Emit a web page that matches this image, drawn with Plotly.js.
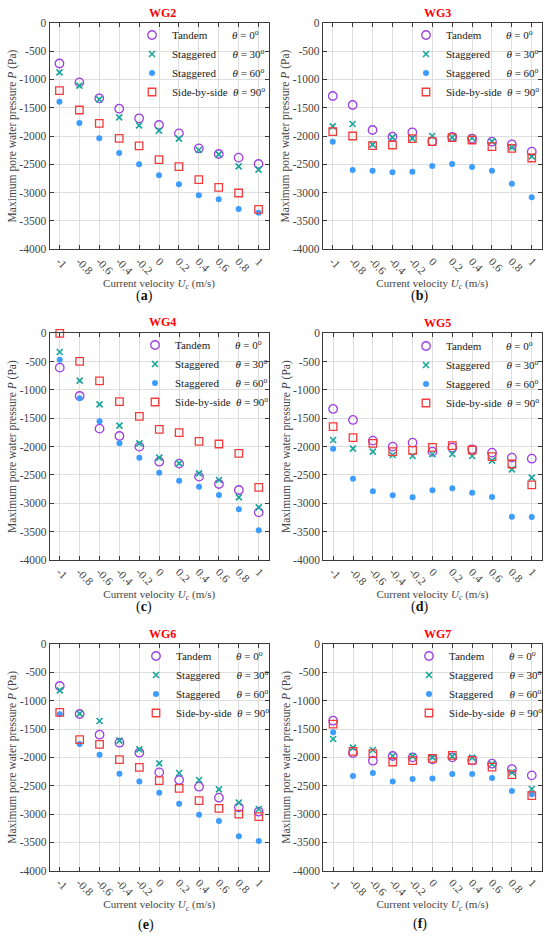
<!DOCTYPE html>
<html>
<head>
<meta charset="utf-8">
<script src="https://cdn.plot.ly/plotly-3.0.1.min.js"></script>
<style>html,body{margin:0;padding:0;background:#fff}#chart{width:550px;height:938px}</style>
</head>
<body>
<div id="chart"></div>
<script>
// ---- data ----
const currentVelocity = [-1, -0.8, -0.6, -0.4, -0.2, 0, 0.2, 0.4, 0.6, 0.8, 1];
const xTickText = ['-1', '-0.8', '-0.6', '-0.4', '-0.2', '0', '0.2', '0.4', '0.6', '0.8', '1'];
const yTickVals = [0, -500, -1000, -1500, -2000, -2500, -3000, -3500, -4000];
const yTickText = ['0', '-500', '-1000', '-1500', '-2000', '-2500', '-3000', '-3500', '-4000'];

const gaugeNames = ['WG2', 'WG3', 'WG4', 'WG5', 'WG6', 'WG7'];
const panelLabels = ['a', 'b', 'c', 'd', 'e', 'f'];
const seriesNames = ['Tandem', 'Staggered', 'Staggered', 'Side-by-side'];
const seriesAngles = ['0', '30', '60', '90'];

const wg2Tandem = [-720, -1053, -1335, -1518, -1688, -1806, -1953, -2218, -2318, -2382, -2494];
const wg2Stag30 = [-876, -1112, -1353, -1671, -1812, -1906, -2047, -2247, -2324, -2535, -2594];
const wg2Stag60 = [-1394, -1771, -2041, -2300, -2500, -2694, -2853, -3047, -3118, -3288, -3353];
const wg2Side   = [-1200, -1541, -1776, -2041, -2176, -2418, -2541, -2771, -2906, -3006, -3294];

const wg3Tandem = [-1294, -1453, -1894, -2012, -1935, -2094, -2018, -2047, -2100, -2147, -2276];
const wg3Stag30 = [-1829, -1788, -2153, -2024, -2041, -2000, -2024, -2035, -2094, -2200, -2359];
const wg3Stag60 = [-2100, -2600, -2612, -2641, -2629, -2529, -2494, -2547, -2612, -2841, -3082];
const wg3Side   = [-1924, -2000, -2171, -2159, -2047, -2100, -2029, -2071, -2188, -2218, -2388];

const wg4Tandem = [-606, -1106, -1682, -1812, -2000, -2265, -2300, -2529, -2659, -2765, -3159];
const wg4Stag30 = [-329, -835, -1253, -1629, -1941, -2194, -2294, -2471, -2588, -2894, -3071];
const wg4Stag60 = [-465, -1147, -1553, -1941, -2194, -2459, -2600, -2706, -2853, -3106, -3476];
const wg4Side   = [0, -494, -841, -1206, -1465, -1694, -1753, -1906, -1953, -2118, -2718];

const wg5Tandem = [-1335, -1529, -1894, -2000, -1929, -2088, -2018, -2047, -2106, -2194, -2212];
const wg5Stag30 = [-1882, -2035, -2088, -2147, -2165, -2135, -2129, -2165, -2247, -2400, -2547];
const wg5Stag60 = [-2035, -2565, -2788, -2859, -2894, -2771, -2735, -2812, -2888, -3235, -3241];
const wg5Side   = [-1647, -1841, -1941, -2088, -2065, -2012, -1982, -2059, -2176, -2306, -2676];

const wg6Tandem = [-741, -1235, -1600, -1741, -1918, -2265, -2400, -2518, -2712, -2882, -2959];
const wg6Stag30 = [-818, -1229, -1359, -1706, -1859, -2106, -2276, -2400, -2565, -2800, -2912];
const wg6Stag60 = [-1241, -1765, -1953, -2288, -2424, -2624, -2818, -3012, -3124, -3394, -3476];
const wg6Side   = [-1206, -1688, -1771, -2041, -2176, -2412, -2547, -2765, -2900, -3000, -3047];

const wg7Tandem = [-1353, -1924, -2059, -1976, -2000, -2035, -2000, -2053, -2112, -2206, -2318];
const wg7Stag30 = [-1676, -1829, -1871, -1976, -1982, -2000, -1982, -2006, -2118, -2265, -2559];
const wg7Stag60 = [-1559, -2329, -2276, -2424, -2382, -2371, -2294, -2294, -2365, -2594, -2653];
const wg7Side   = [-1412, -1894, -1935, -2082, -2059, -2018, -1965, -2053, -2171, -2306, -2676];

const panelData = [
  [wg2Tandem, wg2Stag30, wg2Stag60, wg2Side],
  [wg3Tandem, wg3Stag30, wg3Stag60, wg3Side],
  [wg4Tandem, wg4Stag30, wg4Stag60, wg4Side],
  [wg5Tandem, wg5Stag30, wg5Stag60, wg5Side],
  [wg6Tandem, wg6Stag30, wg6Stag60, wg6Side],
  [wg7Tandem, wg7Stag30, wg7Stag60, wg7Side]
];

// ---- styling / layout ----
const W = 550, H = 938;
const FONT = '"Liberation Serif", "Times New Roman", Times, serif';
const markerStyles = [
  {symbol: 'circle-open', size: 8.5, color: '#9D3FE0', line: {color: '#9D3FE0', width: 1.3}},
  {symbol: 'x-thin-open', size: 6, color: '#17A59B', line: {color: '#17A59B', width: 1.6}},
  {symbol: 'circle', size: 6, color: '#3D9CFF', line: {color: '#3D9CFF', width: 0}},
  {symbol: 'square-open', size: 7.5, color: '#F23B3B', line: {color: '#F23B3B', width: 1.3}}
];
// pixel boxes [left, right, top, bottom]
const boxes = [
  [49.5, 268.5, 22.7, 249.3],
  [322.8, 541.7, 22.7, 249.3],
  [49.8, 268.7, 333.3, 560],
  [323.2, 541.7, 333.3, 560],
  [49.8, 268.7, 644, 870.7],
  [323.2, 541.7, 644, 870.7]
];
const titlePos = [[162, 12.5], [437, 12.5], [162, 322.5], [437, 323], [162, 634], [437, 634]];
const labelPos = [[144, 296], [419, 296], [144, 607], [419, 607], [146, 925], [420, 924]];
const legendSym = [[152, 35], [426, 35], [155, 345], [426, 346], [156, 656], [429, 656]];

const px = v => v / W, py = v => 1 - v / H;
const pad = n => '\u00A0'.repeat(n);
const namePad = [8, 5, 5, 1];

const traces = [];
const layout = {
  width: W, height: H,
  margin: {l: 0, r: 0, t: 0, b: 0},
  paper_bgcolor: '#fff', plot_bgcolor: '#fff',
  showlegend: true,
  font: {family: FONT, color: '#333'},
  annotations: []
};

panelData.forEach((series, p) => {
  const k = p === 0 ? '' : String(p + 1);
  const legKey = 'legend' + k;
  series.forEach((vals, s) => {
    traces.push({
      type: 'scatter', mode: 'markers',
      x: currentVelocity, y: vals,
      xaxis: 'x' + k, yaxis: 'y' + k,
      legend: legKey,
      name: seriesNames[s] + pad(namePad[s]) + ' <i>θ</i> = ' + seriesAngles[s] + '<sup>o</sup>',
      marker: markerStyles[s],
      cliponaxis: false,
      hoverinfo: 'x+y'
    });
  });
  const b = boxes[p];
  const axCommon = {
    showline: true, linecolor: '#3a3a3a', linewidth: 1, mirror: 'ticks',
    ticks: 'inside', ticklen: 4, tickcolor: '#3a3a3a', tickwidth: 1,
    showgrid: true, gridcolor: '#dedede', gridwidth: 1,
    zeroline: false, automargin: false,
    tickfont: {family: FONT, size: 11.5, color: '#444'}
  };
  layout['xaxis' + k] = Object.assign({}, axCommon, {
    domain: [px(b[0]), px(b[1])],
    anchor: 'y' + k,
    range: [-1.1, 1.1],
    tickmode: 'array', tickvals: currentVelocity, ticktext: xTickText,
    tickangle: 45,
    title: {text: 'Current velocity <i>U<sub>c</sub></i> (m/s)', font: {family: FONT, size: 11, color: '#444'}, standoff: 0}
  });
  layout['yaxis' + k] = Object.assign({}, axCommon, {
    domain: [py(b[3]), py(b[2])],
    anchor: 'x' + k,
    range: [-4000, 0],
    tickmode: 'array', tickvals: yTickVals, ticktext: yTickText,
    title: {text: 'Maximum pore water pressure <i>P</i> (Pa)', font: {family: FONT, size: 11.5, color: '#444'}, standoff: 0}
  });
  layout[legKey] = {
    x: px(legendSym[p][0] - 20), y: py(legendSym[p][1] - 14.5),
    xanchor: 'left', yanchor: 'top',
    bgcolor: 'rgba(0,0,0,0)', borderwidth: 0,
    font: {family: FONT, size: 11, color: '#1a1a1a'},
    itemwidth: 30, tracegroupgap: 0
  };
  layout.annotations.push({
    xref: 'paper', yref: 'paper', x: px(titlePos[p][0]), y: py(titlePos[p][1]),
    xanchor: 'center', yanchor: 'middle', showarrow: false,
    text: '<b>' + gaugeNames[p] + '</b>',
    font: {family: FONT, size: 12, color: '#FF0000'}
  });
  layout.annotations.push({
    xref: 'paper', yref: 'paper', x: px(labelPos[p][0]), y: py(labelPos[p][1]),
    xanchor: 'center', yanchor: 'middle', showarrow: false,
    text: '(<b>' + panelLabels[p] + '</b>)',
    font: {family: FONT, size: 14, color: '#111'}
  });
});

Plotly.newPlot('chart', traces, layout, {displayModeBar: false, staticPlot: true});
</script>
</body>
</html>
